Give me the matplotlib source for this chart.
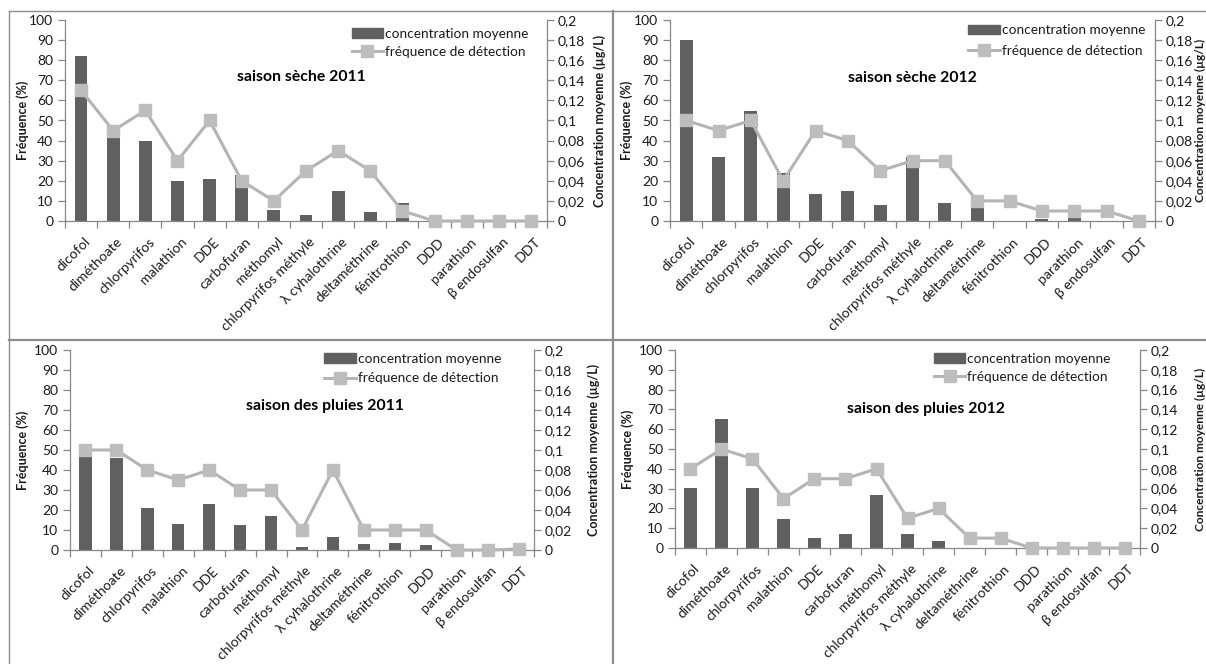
import matplotlib
matplotlib.use("Agg")
import matplotlib.pyplot as plt
import matplotlib.transforms as mtransforms
from matplotlib.patches import Patch
from matplotlib.lines import Line2D
import numpy as np

plt.rcParams['font.family'] = ['Lato', 'DejaVu Sans']

categories = ['dicofol', 'diméthoate', 'chlorpyrifos', 'malathion', 'DDE', 'carbofuran',
              'méthomyl', 'chlorpyrifos méthyle', 'λ cyhalothrine', 'deltaméthrine',
              'fénitrothion', 'DDD', 'parathion', 'β endosulfan', 'DDT']

titles = ['saison sèche 2011', 'saison sèche 2012', 'saison des pluies 2011', 'saison des pluies 2012']

# concentration moyenne (µg/L)
ss2011_conc = [0.164, 0.087, 0.080, 0.040, 0.042, 0.046, 0.011, 0.0055, 0.030, 0.009, 0.018, 0, 0, 0, 0]
ss2012_conc = [0.180, 0.064, 0.109, 0.048, 0.027, 0.030, 0.016, 0.064, 0.018, 0.014, 0, 0.002, 0.004, 0, 0]
sp2011_conc = [0.096, 0.092, 0.042, 0.026, 0.046, 0.025, 0.034, 0.003, 0.013, 0.006, 0.007, 0.005, 0, 0, 0]
sp2012_conc = [0.061, 0.130, 0.061, 0.029, 0.010, 0.014, 0.054, 0.014, 0.007, 0, 0, 0, 0, 0, 0]

# fréquence de détection (%)
ss2011_freq = [65, 45, 55, 30, 50, 20, 10, 25, 35, 25, 5, 0, 0, 0, 0]
ss2012_freq = [50, 45, 50, 20, 45, 40, 25, 30, 30, 10, 10, 5, 5, 5, 0]
sp2011_freq = [50, 50, 40, 35, 40, 30, 30, 10, 40, 10, 10, 10, 0, 0, 0.5]
sp2012_freq = [40, 50, 45, 25, 35, 35, 40, 15, 20, 5, 5, 0, 0, 0, 0]

freq_ticks = [0, 10, 20, 30, 40, 50, 60, 70, 80, 90, 100]
conc_ticks = [0, 0.02, 0.04, 0.06, 0.08, 0.1, 0.12, 0.14, 0.16, 0.18, 0.2]
conc_ticklabels = ['0', '0,02', '0,04', '0,06', '0,08', '0,1', '0,12', '0,14', '0,16', '0,18', '0,2']

W, H = 1206, 664
fig = plt.figure(figsize=(W / 100, H / 100), dpi=100)

BAR_C = '#606060'
LINE_C = '#B4B4B4'
MARK_C = '#BDBDBD'
SPINE_C = '#868686'
TXT_C = '#1a1a1a'

def fx(px):
    return px / W

def fy(py):
    return 1 - py / H

panels = [
    dict(box=(65, 547, 20, 221), conc=ss2011_conc, freq=ss2011_freq, title=titles[0],
         tpos=(0.49, 0.716), leg=(0.595, 0.962), lsp=0.45, ylx=23, yrx=600, rfs=9),
    dict(box=(670, 1155, 20, 221), conc=ss2012_conc, freq=ss2012_freq, title=titles[1],
         tpos=(0.50, 0.71), leg=(0.615, 0.978), lsp=0.6, ylx=627, yrx=1200, rfs=8.6),
    dict(box=(70, 534, 350, 550), conc=sp2011_conc, freq=sp2011_freq, title=titles[2],
         tpos=(0.55, 0.72), leg=(0.548, 0.985), lsp=0.55, ylx=23, yrx=594, rfs=9),
    dict(box=(675, 1140, 350, 548), conc=sp2012_conc, freq=sp2012_freq, title=titles[3],
         tpos=(0.54, 0.70), leg=(0.557, 0.985), lsp=0.45, ylx=628, yrx=1200, rfs=8.6),
]

x = np.arange(len(categories))
label_shift = mtransforms.ScaledTranslation(3 / 100, 0, fig.dpi_scale_trans)

for p in panels:
    l, r, t, b = p['box']
    ax = fig.add_axes([fx(l), fy(b), fx(r - l), (b - t) / H])
    ax2 = ax.twinx()

    ax2.bar(x, p['conc'], width=0.4, color=BAR_C, zorder=2)
    ax2.set_ylim(0, 0.2)
    ax2.set_yticks(conc_ticks)
    ax2.set_yticklabels(conc_ticklabels)

    ax.plot(x, p['freq'], color=LINE_C, lw=2.2, marker='s', markersize=9,
            markerfacecolor=MARK_C, markeredgecolor=MARK_C, zorder=3, clip_on=False)
    ax.set_ylim(0, 100)
    ax.set_yticks(freq_ticks)
    ax.set_xlim(-0.5, len(categories) - 0.5)
    ax.set_zorder(ax2.get_zorder() + 1)
    ax.patch.set_visible(False)

    for a in (ax, ax2):
        a.spines['top'].set_visible(False)
        for s in ('left', 'right', 'bottom'):
            a.spines[s].set_color(SPINE_C)
            a.spines[s].set_linewidth(0.9)
        a.tick_params(axis='y', colors=SPINE_C, labelcolor=TXT_C, labelsize=10, length=5, width=0.9)
    ax2.tick_params(axis='y', pad=2.5)
    ax2.spines['left'].set_visible(False)
    ax.spines['right'].set_visible(False)
    ax2.spines['bottom'].set_visible(False)

    ax.set_xticks(x)
    ax.set_xticklabels(categories, rotation=45, ha='right', va='top', rotation_mode='anchor',
                       fontsize=10.0, color=TXT_C)
    ax.tick_params(axis='x', which='major', length=0, pad=10.5)
    for lab in ax.get_xticklabels():
        lab.set_transform(lab.get_transform() + label_shift)
    ax.set_xticks(np.arange(-0.5, len(categories) + 0.5, 1), minor=True)
    ax.tick_params(axis='x', which='minor', length=5, width=0.9, color=SPINE_C)

    ax.text(p['tpos'][0], p['tpos'][1], p['title'], transform=ax.transAxes, ha='center', va='center',
            fontsize=11.3, fontweight='bold', color='black')

    handles = [Patch(facecolor=BAR_C, edgecolor=BAR_C),
               Line2D([0], [0], color=LINE_C, lw=2.2, marker='s', markersize=9,
                      markerfacecolor=MARK_C, markeredgecolor=MARK_C)]
    ax.legend(handles, ['concentration moyenne', 'fréquence de détection'], loc='upper left',
              bbox_to_anchor=p['leg'], frameon=False, fontsize=9.8, handlelength=2.3,
              handletextpad=0.15, labelspacing=p['lsp'], borderpad=0, borderaxespad=0, numpoints=1,
              labelcolor=TXT_C)

    fig.text(fx(p['ylx']), fy((t + b) / 2), 'Fréquence (%)', rotation=90, ha='center', va='center',
             fontsize=9, fontweight='bold', color=TXT_C)
    fig.text(fx(p['yrx']), fy((t + b) / 2), 'Concentration moyenne (µg/L)', rotation=90, ha='center',
             va='center', fontsize=p['rfs'], fontweight='bold', color=TXT_C)

BORDER_C = '#8C8C8C'
fig.add_artist(Line2D([fx(9), fx(W)], [fy(11), fy(11)], color=BORDER_C, lw=1.0))
fig.add_artist(Line2D([fx(9), fx(W)], [fy(340), fy(340)], color=BORDER_C, lw=1.6))
fig.add_artist(Line2D([fx(9), fx(9)], [fy(11), fy(H)], color=BORDER_C, lw=1.0))
fig.add_artist(Line2D([fx(613), fx(613)], [fy(11), fy(H)], color=BORDER_C, lw=1.6))

fig.savefig('out.png', dpi=100)
